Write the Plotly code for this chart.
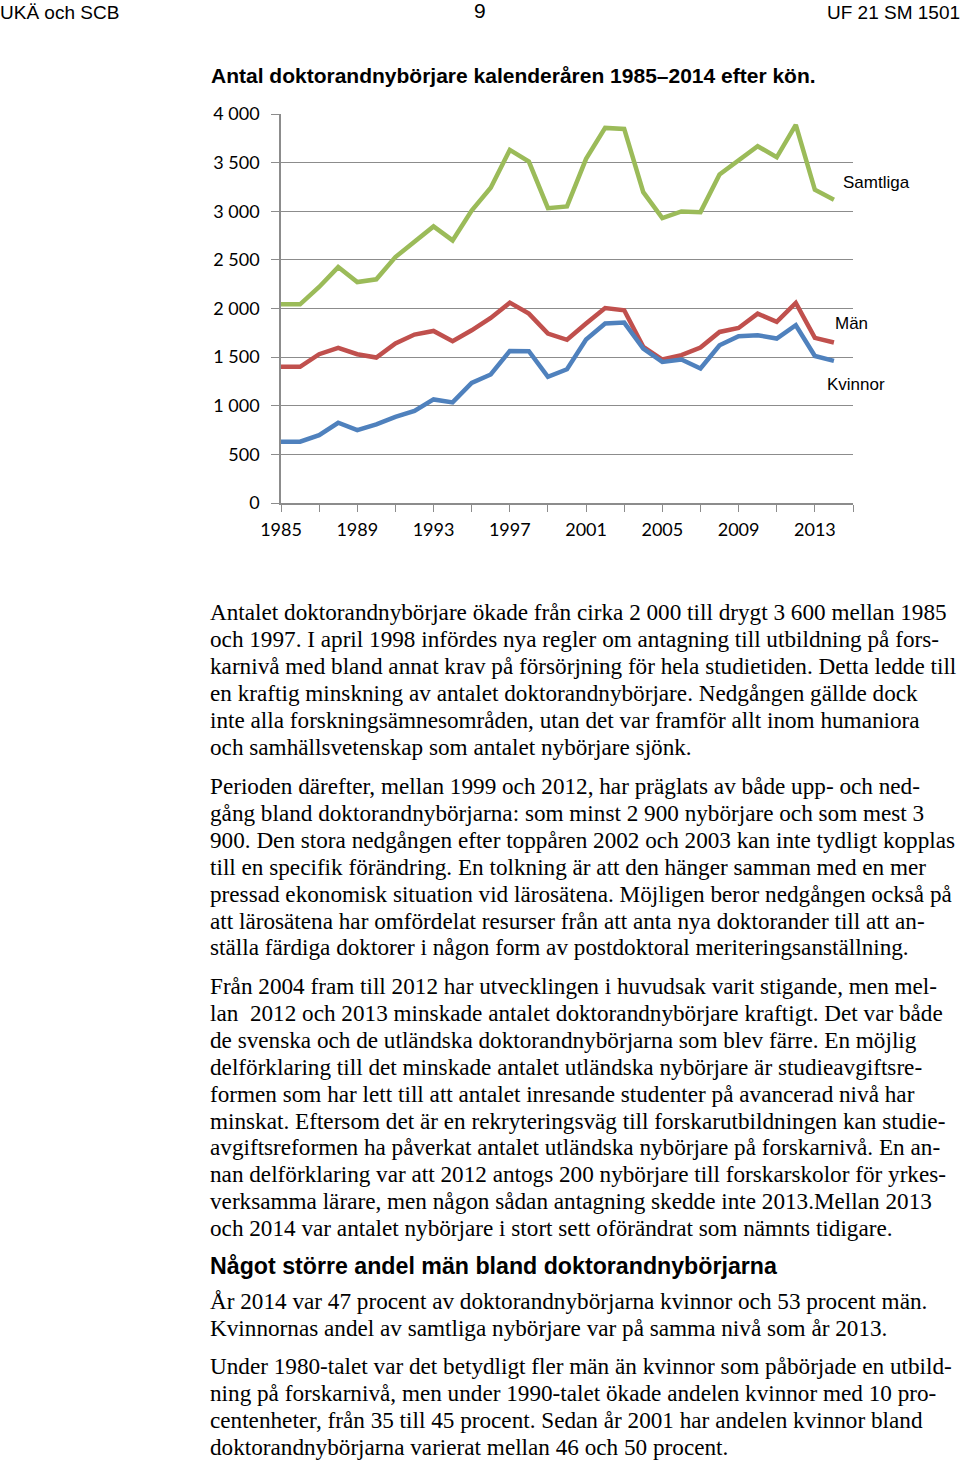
import plotly.graph_objects as go

# ---------------- data ----------------
years = list(range(1985, 2015))
samtliga = [2043, 2043, 2221, 2426, 2272, 2300, 2529, 2683, 2844, 2700,
            3008, 3241, 3631, 3511, 3032, 3050, 3539, 3857, 3847, 3196,
            2929, 2998, 2991, 3378, 3522, 3669, 3555, 3888, 3221, 3118]
man = [1400, 1400, 1530, 1595, 1530, 1496, 1640, 1732, 1769, 1663,
       1776, 1903, 2060, 1947, 1742, 1678, 1845, 2005, 1982, 1605,
       1475, 1520, 1598, 1759, 1800, 1947, 1862, 2057, 1698, 1650]
kvinnor = [630, 630, 698, 825, 750, 808, 886, 948, 1065, 1034,
           1235, 1321, 1564, 1561, 1297, 1375, 1681, 1845, 1855, 1588,
           1451, 1475, 1383, 1622, 1715, 1725, 1691, 1828, 1512, 1461]
series_names = ["Samtliga", "Män", "Kvinnor"]
x_tick_vals = [1985, 1989, 1993, 1997, 2001, 2005, 2009, 2013]
x_tick_labels = ["1985", "1989", "1993", "1997", "2001", "2005", "2009", "2013"]
y_tick_vals = [0, 500, 1000, 1500, 2000, 2500, 3000, 3500, 4000]
y_tick_labels = ["0", "500", "1 000", "1 500", "2 000", "2 500", "3 000", "3 500", "4 000"]

header_left = "UKÄ och SCB"
header_mid = "9"
header_right = "UF 21 SM 1501"
title = "Antal doktorandnybörjare kalenderåren 1985–2014 efter kön."
heading2 = "Något större andel män bland doktorandnybörjarna"

para1 = [
    "Antalet doktorandnybörjare ökade från cirka 2 000 till drygt 3 600 mellan 1985",
    "och 1997. I april 1998 infördes nya regler om antagning till utbildning på fors-",
    "karnivå med bland annat krav på försörjning för hela studietiden. Detta ledde till",
    "en kraftig minskning av antalet doktorandnybörjare. Nedgången gällde dock",
    "inte alla forskningsämnesområden, utan det var framför allt inom humaniora",
    "och samhällsvetenskap som antalet nybörjare sjönk.",
]
para2 = [
    "Perioden därefter, mellan 1999 och 2012, har präglats av både upp- och ned-",
    "gång bland doktorandnybörjarna: som minst 2 900 nybörjare och som mest 3",
    "900. Den stora nedgången efter toppåren 2002 och 2003 kan inte tydligt kopplas",
    "till en specifik förändring. En tolkning är att den hänger samman med en mer",
    "pressad ekonomisk situation vid lärosätena. Möjligen beror nedgången också på",
    "att lärosätena har omfördelat resurser från att anta nya doktorander till att an-",
    "ställa färdiga doktorer i någon form av postdoktoral meriteringsanställning.",
]
para3 = [
    "Från 2004 fram till 2012 har utvecklingen i huvudsak varit stigande, men mel-",
    "lan  2012 och 2013 minskade antalet doktorandnybörjare kraftigt. Det var både",
    "de svenska och de utländska doktorandnybörjarna som blev färre. En möjlig",
    "delförklaring till det minskade antalet utländska nybörjare är studieavgiftsre-",
    "formen som har lett till att antalet inresande studenter på avancerad nivå har",
    "minskat. Eftersom det är en rekryteringsväg till forskarutbildningen kan studie-",
    "avgiftsreformen ha påverkat antalet utländska nybörjare på forskarnivå. En an-",
    "nan delförklaring var att 2012 antogs 200 nybörjare till forskarskolor för yrkes-",
    "verksamma lärare, men någon sådan antagning skedde inte 2013.Mellan 2013",
    "och 2014 var antalet nybörjare i stort sett oförändrat som nämnts tidigare.",
]
para4 = [
    "År 2014 var 47 procent av doktorandnybörjarna kvinnor och 53 procent män.",
    "Kvinnornas andel av samtliga nybörjare var på samma nivå som år 2013.",
]
para5 = [
    "Under 1980-talet var det betydligt fler män än kvinnor som påbörjade en utbild-",
    "ning på forskarnivå, men under 1990-talet ökade andelen kvinnor med 10 pro-",
    "centenheter, från 35 till 45 procent. Sedan år 2001 har andelen kvinnor bland",
    "doktorandnybörjarna varierat mellan 46 och 50 procent.",
]

# ---------------- layout geometry ----------------
W, H = 960, 1460
PL, PR, PT, PB = 281, 853, 114, 503


def px(xp):
    return (xp - PL) / (PR - PL)


def py(yp):
    return (PB - yp) / (PB - PT)


GREEN, RED, BLUE = "#9BBB59", "#C0504D", "#4F81BD"
GRID = "#8C8C8C"

fig = go.Figure()
for name, vals, col in [(series_names[0], samtliga, GREEN),
                        (series_names[1], man, RED),
                        (series_names[2], kvinnor, BLUE)]:
    fig.add_trace(go.Scatter(x=years, y=vals, mode="lines", name=name,
                             line=dict(color=col, width=4.5),
                             hoverinfo="x+y+name"))

ann = []


def add_text(s, xp, yp, size, family="Liberation Sans", bold=False,
             xanchor="left"):
    txt = f"<b>{s}</b>" if bold else s
    ann.append(dict(text=txt, x=px(xp), y=py(yp), xref="paper", yref="paper",
                    xanchor=xanchor, yanchor="middle", showarrow=False,
                    font=dict(family=family, size=size, color="black")))


# headers
add_text(header_left, -2, 12, 19)
add_text(header_mid, 480, 11, 21, xanchor="center")
add_text(header_right, 962, 12, 19, xanchor="right")
add_text(title, 209, 75, 21, bold=True)

# series labels
add_text(series_names[0], 841, 182, 17)
add_text(series_names[1], 833, 323, 17)
add_text(series_names[2], 825, 384, 17)

# body text
SERIF = "Liberation Serif"
LH = 26.9
for start, lines in [(612, para1), (786, para2), (986, para3),
                     (1301, para4), (1366, para5)]:
    for i, line in enumerate(lines):
        add_text(line, 208, start + i * LH, 23.2, family=SERIF)
add_text(heading2, 208, 1266, 23.2, bold=True)

fig.update_layout(
    width=W, height=H,
    margin=dict(l=PL, r=W - PR, t=PT, b=H - PB, pad=0),
    paper_bgcolor="white", plot_bgcolor="white",
    showlegend=False,
    annotations=ann,
    xaxis=dict(range=[1985, 2015], tickvals=x_tick_vals, ticktext=x_tick_labels,
               showgrid=False, zeroline=False, showline=True,
               linecolor=GRID, linewidth=1.5,
               ticks="outside", ticklen=7, tickwidth=1.3, tickcolor=GRID,
               minor=dict(tick0=1985, dtick=2, ticks="outside", ticklen=7,
                          tickwidth=1.3, tickcolor=GRID, showgrid=False),
               tickfont=dict(family="Lato", size=18, color="black"),
               ticklabelstandoff=3,
               fixedrange=True),
    yaxis=dict(range=[0, 4000], tickvals=y_tick_vals, ticktext=y_tick_labels,
               showgrid=True, gridcolor=GRID, gridwidth=1.3,
               zeroline=False, showline=True, linecolor=GRID, linewidth=1.5,
               ticks="outside", ticklen=8, tickwidth=1.3, tickcolor=GRID,
               tickfont=dict(family="Lato", size=18, color="black"),
               ticklabelstandoff=8,
               fixedrange=True),
)

fig.write_html("out.html",
               config={"displayModeBar": False},
               post_script="document.body.style.margin='0';"
                           "document.body.style.overflow='hidden';")
